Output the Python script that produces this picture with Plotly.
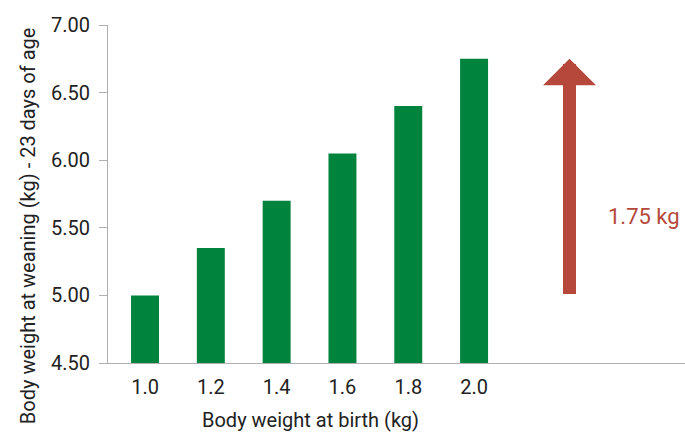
import plotly.graph_objects as go

# peso ao nascer (kg) e peso ao desmame (kg)
birth_weight = [1.0, 1.2, 1.4, 1.6, 1.8, 2.0]
birth_labels = ['1.0', '1.2', '1.4', '1.6', '1.8', '2.0']
weaning_weight = [5.00, 5.35, 5.70, 6.05, 6.40, 6.75]
y_ticks = [4.5, 5.0, 5.5, 6.0, 6.5, 7.0]
y_tick_labels = ['4.50', '5.00', '5.50', '6.00', '6.50', '7.00']
gain_label = '1.75 kg'
x_title = 'Body weight at birth (kg)'
y_title = 'Body weight at weaning (kg) - 23 days of age'

green = '#00843D'
red = '#B5483A'
text_color = '#222'
font = 'Roboto'

fig = go.Figure()

fig.add_trace(go.Bar(
    x=birth_weight,
    y=weaning_weight,
    width=0.085,
    marker=dict(color=green, line=dict(width=0)),
))

# seta de ganho (do menor ao maior peso)
fig.add_annotation(
    x=2.29, y=max(weaning_weight),
    ax=2.29, ay=min(weaning_weight),
    xref='x', yref='y', axref='x', ayref='y',
    text='', showarrow=True,
    arrowhead=1, arrowwidth=13, arrowsize=0.68,
    arrowcolor=red, standoff=0,
)
fig.add_annotation(
    x=2.515, y=5.58, xref='x', yref='y',
    text=gain_label, showarrow=False,
    font=dict(family=font, size=22, color=red),
)

# títulos dos eixos (não centralizados no original)
fig.add_annotation(
    x=0.351, y=-0.169, xref='paper', yref='paper',
    text=x_title, showarrow=False,
    xanchor='center', yanchor='middle',
    font=dict(family=font, size=20, color=text_color),
)
fig.add_annotation(
    x=-0.1386, y=0.405, xref='paper', yref='paper',
    text=y_title, showarrow=False, textangle=-90,
    xanchor='center', yanchor='middle',
    font=dict(family=font, size=20, color=text_color),
)

fig.update_layout(
    width=685, height=433,
    margin=dict(l=108, r=0, t=25, b=70),
    plot_bgcolor='white', paper_bgcolor='white',
    showlegend=False,
    font=dict(family=font, size=20, color=text_color),
)
fig.update_xaxes(
    range=[0.8875, 2.641], automargin=False,
    tickvals=birth_weight, ticktext=birth_labels,
    showgrid=False, zeroline=False,
    showline=True, linecolor='#b0b0b0', linewidth=1,
    ticks='', ticklabelstandoff=6,
    tickfont=dict(size=20, color=text_color),
)
fig.update_yaxes(
    range=[4.5, 7.0], automargin=False,
    tickvals=y_ticks, ticktext=y_tick_labels,
    showgrid=False, zeroline=False,
    showline=True, linecolor='#b0b0b0', linewidth=1,
    ticks='outside', ticklen=8, tickcolor='#b0b0b0',
    ticklabelstandoff=5,
    tickfont=dict(size=20, color=text_color),
)

# tira a margem padrão do body para a figura ocupar a janela toda
fig.write_html('out.html', config={'displayModeBar': False},
               post_script="document.body.style.margin='0';")
